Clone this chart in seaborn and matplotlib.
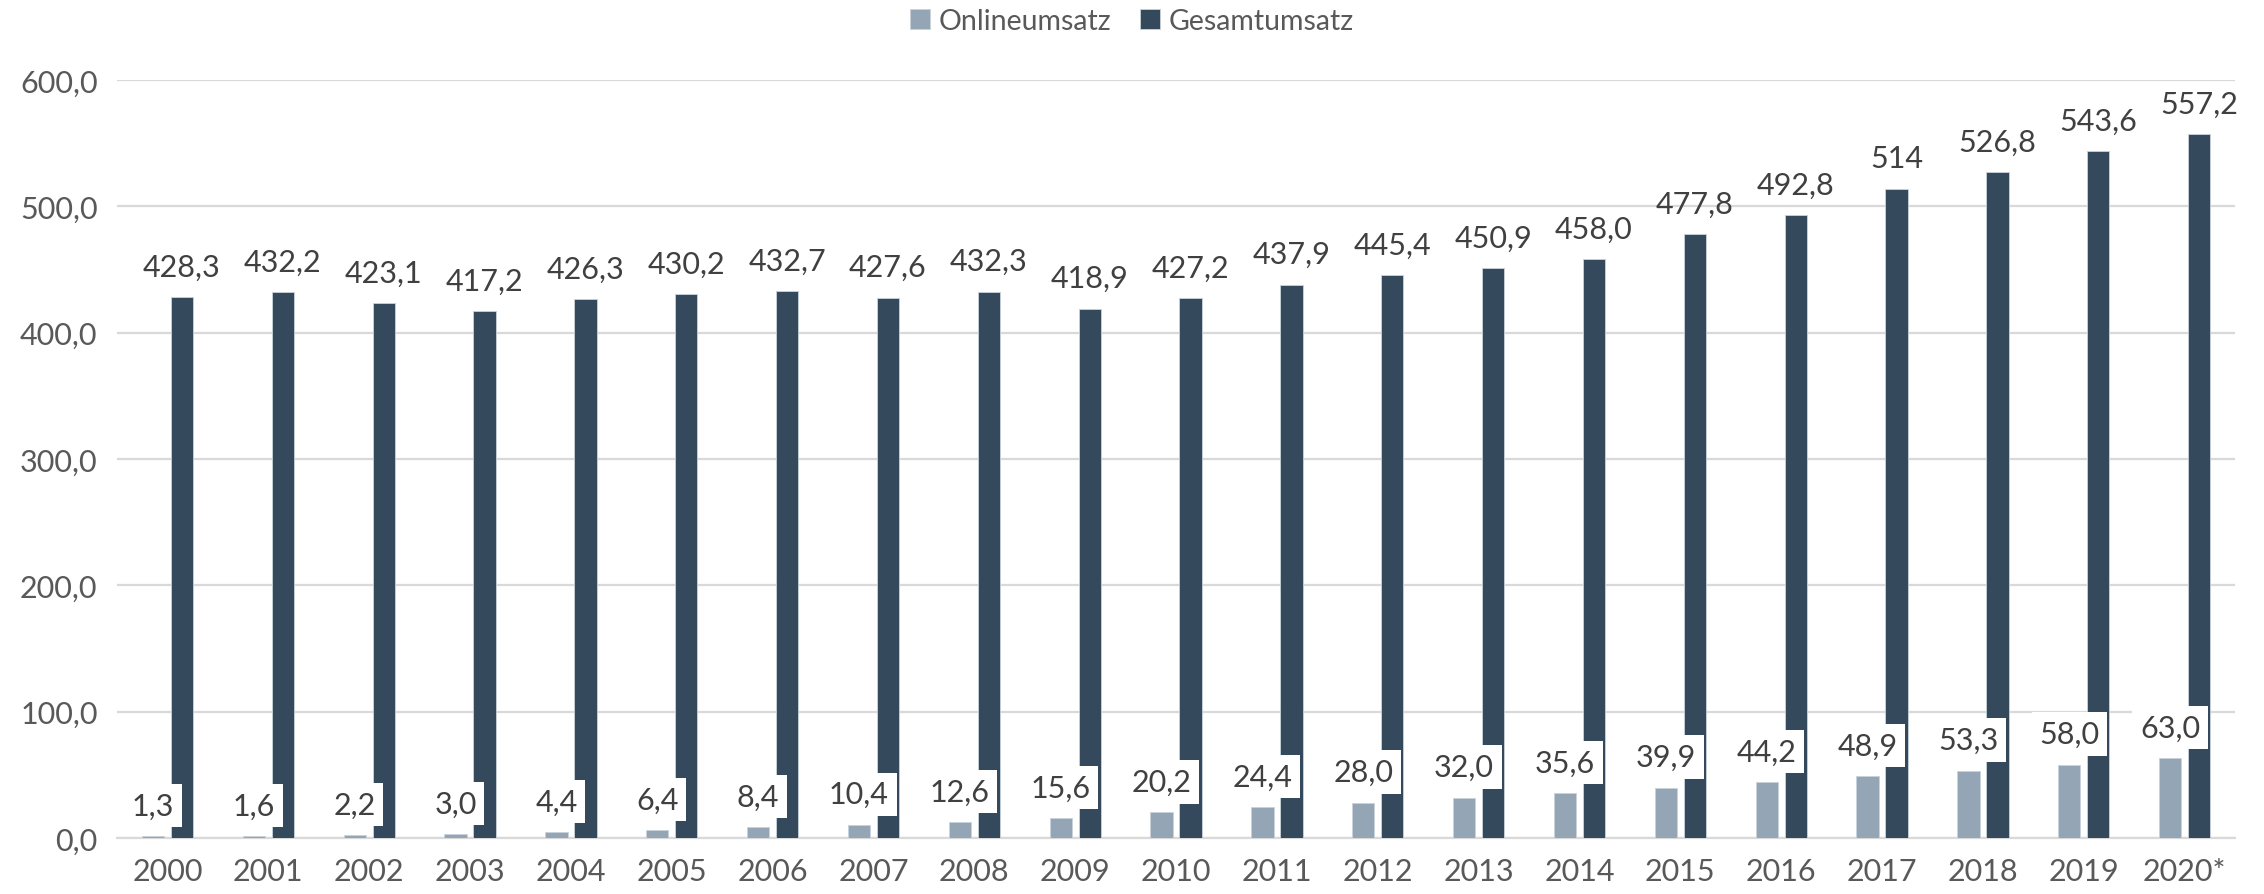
import matplotlib
matplotlib.use("Agg")
import matplotlib.pyplot as plt
import seaborn as sns
import pandas as pd

# Umsatzdaten
jahre = ["2000", "2001", "2002", "2003", "2004", "2005", "2006", "2007", "2008", "2009",
         "2010", "2011", "2012", "2013", "2014", "2015", "2016", "2017", "2018", "2019", "2020*"]
online = [1.3, 1.6, 2.2, 3.0, 4.4, 6.4, 8.4, 10.4, 12.6, 15.6, 20.2,
          24.4, 28.0, 32.0, 35.6, 39.9, 44.2, 48.9, 53.3, 58.0, 63.0]
gesamt = [428.3, 432.2, 423.1, 417.2, 426.3, 430.2, 432.7, 427.6, 432.3, 418.9, 427.2,
          437.9, 445.4, 450.9, 458.0, 477.8, 492.8, 514, 526.8, 543.6, 557.2]
online_labels = ["1,3", "1,6", "2,2", "3,0", "4,4", "6,4", "8,4", "10,4", "12,6", "15,6", "20,2",
                 "24,4", "28,0", "32,0", "35,6", "39,9", "44,2", "48,9", "53,3", "58,0", "63,0"]
gesamt_labels = ["428,3", "432,2", "423,1", "417,2", "426,3", "430,2", "432,7", "427,6", "432,3",
                 "418,9", "427,2", "437,9", "445,4", "450,9", "458,0", "477,8", "492,8", "514",
                 "526,8", "543,6", "557,2"]
y_ticks = [0, 100, 200, 300, 400, 500, 600]

df = pd.DataFrame({
    "Jahr": jahre * 2,
    "Wert": online + gesamt,
    "Reihe": ["Onlineumsatz"] * len(jahre) + ["Gesamtumsatz"] * len(jahre),
})

sns.set_style("white")
plt.rcParams["font.family"] = ["Lato", "DejaVu Sans"]
fs = 22

fig = plt.figure(figsize=(22.64, 8.95), dpi=100)
ax = fig.add_axes([0.0517, 0.0626, 0.9355, 0.847])

sns.barplot(data=df, x="Jahr", y="Wert", hue="Reihe", order=jahre,
            palette={"Onlineumsatz": "#8FA6BA", "Gesamtumsatz": "#2E4964"},
            width=0.575, gap=0.23, edgecolor="#C9D3DC", linewidth=0.6,
            ax=ax, zorder=3)

ax.set_ylim(0, 600)
ax.set_xlim(-0.5, len(jahre) - 0.5)
ax.set_yticks(y_ticks)
ax.set_yticklabels([f"{v},0" for v in y_ticks])
ax.yaxis.grid(True, color="#D9D9D9", linewidth=1.6, zorder=0)
ax.set_axisbelow(True)
for s in ["top", "right", "left"]:
    ax.spines[s].set_visible(False)
ax.spines["bottom"].set_color("#D9D9D9")
ax.spines["bottom"].set_linewidth(1.6)
ax.tick_params(axis="both", length=0, labelsize=fs, labelcolor="#595959")
ax.tick_params(axis="x", pad=14)
ax.tick_params(axis="y", pad=14)
ax.set_xlabel("")
ax.set_ylabel("")

# Datenbeschriftungen
cont_online, cont_gesamt = ax.containers[0], ax.containers[1]
for bar, lab in zip(cont_online, online_labels):
    ax.annotate(lab, (bar.get_x() + bar.get_width() / 2, bar.get_height()),
                xytext=(0, 22), textcoords="offset points", ha="center", va="center",
                fontsize=fs, color="#404040", zorder=5,
                bbox=dict(boxstyle="square,pad=0.25", facecolor="white", edgecolor="none"))
for bar, lab in zip(cont_gesamt, gesamt_labels):
    ax.annotate(lab, (bar.get_x() + bar.get_width() / 2, bar.get_height()),
                xytext=(0, 22), textcoords="offset points", ha="center", va="center",
                fontsize=fs, color="#404040", zorder=5)

leg = ax.legend(loc="center", bbox_to_anchor=(0.5, 0.975), bbox_transform=fig.transFigure,
                ncol=2, frameon=False, fontsize=20.5, handlelength=0.7, handleheight=0.7,
                handletextpad=0.3, columnspacing=1.0)
for t in leg.get_texts():
    t.set_color("#595959")

fig.savefig("out.png", dpi=100)
